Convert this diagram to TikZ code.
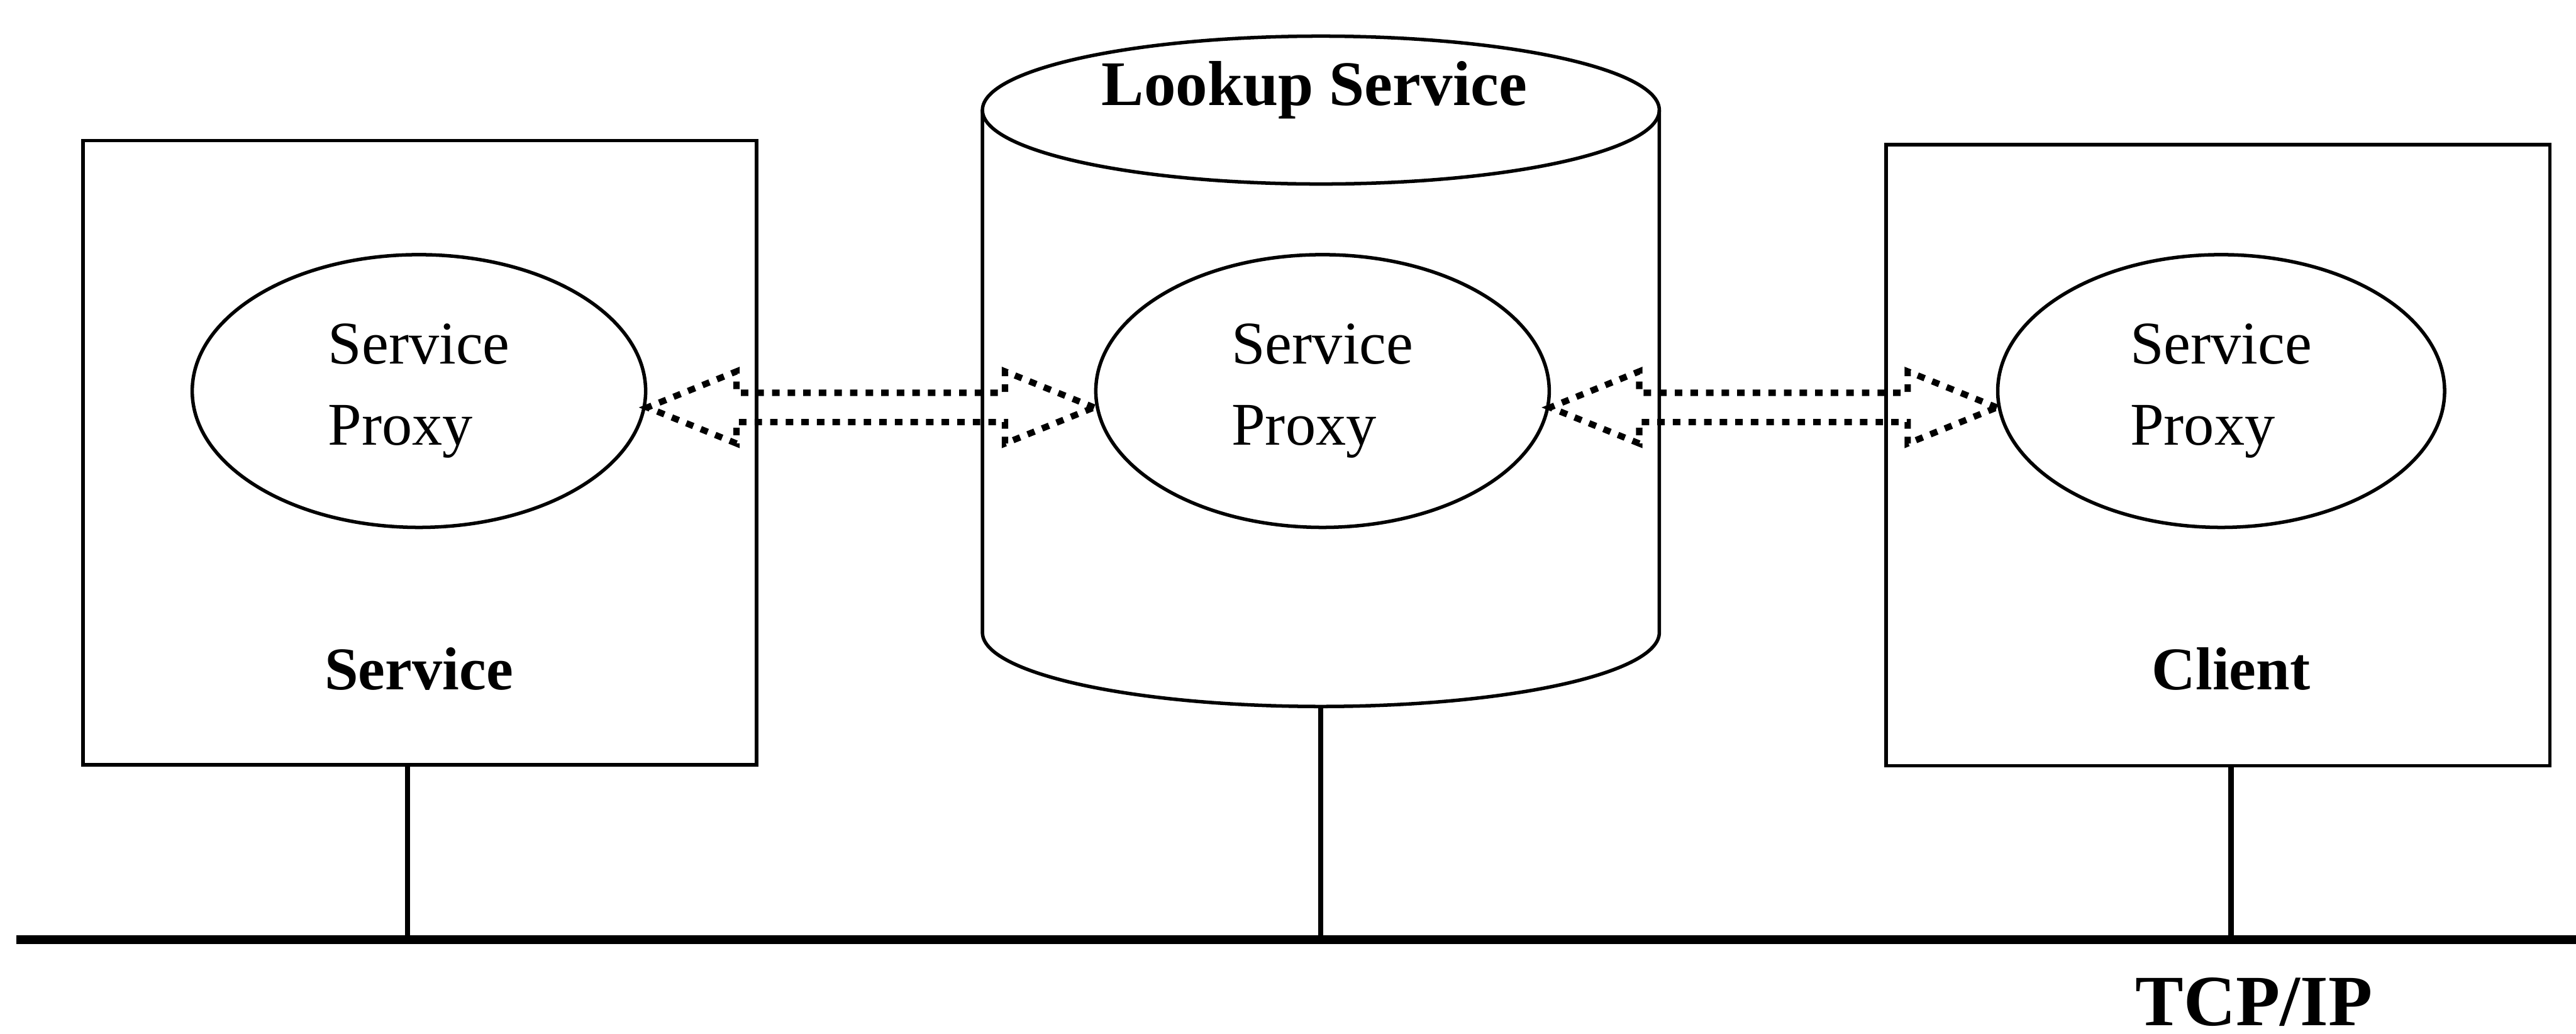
\documentclass[tikz,border=0pt]{standalone}
\usepackage{fontspec}
\setmainfont{Liberation Serif}
\usetikzlibrary{shapes.geometric,shapes.arrows,calc}

\begin{document}
\begin{tikzpicture}[
		host/.style={rectangle, draw, line width=0.6pt, minimum width=4.1cm, minimum height=3.8cm},
		proxy/.style={ellipse, draw, line width=0.6pt, minimum width=2.76cm, minimum height=1.66cm, align=left, font=\fontsize{10.5}{14}\selectfont},
		link/.style={double arrow, draw, line width=1.1pt, dash pattern=on 1.3pt off 1.4pt, inner xsep=0pt, inner ysep=0.07cm, double arrow head extend=0.13cm, double arrow tip angle=44, minimum height=2.72cm},
		caption/.style={font=\fontsize{10.5}{12}\selectfont\bfseries},
		wire/.style={line width=0.9pt},
		bus/.style={line width=1.5pt}
		]
		\useasboundingbox (0,0) rectangle (15.68,6.29);
		
		\node[host] (svcbox) at (2.555,3.535) {};
		\node[host, minimum width=4.04cm, minimum height=3.78cm] (clibox) at (13.50,3.52) {};
		
		\draw[line width=0.6pt] (5.98,5.62) -- (5.98,2.44) arc[start angle=180, end angle=360, x radius=2.06cm, y radius=0.45cm] -- (10.10,5.62);
		\draw[line width=0.6pt] (8.04,5.62) ellipse[x radius=2.06cm, y radius=0.45cm];
		\coordinate (lkpbase) at (8.04,1.99);
		
		\node[proxy] (svcpx) at (2.55,3.91) {Service\\Proxy};
		\node[proxy] (lkppx) at (8.05,3.91) {Service\\Proxy};
		\node[proxy, minimum width=2.72cm] (clipx) at (13.52,3.91) {Service\\Proxy};
		
		\node[caption, font=\fontsize{11}{13}\selectfont\bfseries] (lkpname) at (8.00,5.74) {Lookup Service};
		\node[caption] (svcname) at (2.55,2.22) {Service};
		\node[caption] (cliname) at (13.58,2.22) {Client};
		
		\node[link] (svclink) at ($(svcpx.east)!0.5!(lkppx.west)+(0,-0.1)$) {};
		\node[link] (clilink) at ($(lkppx.east)!0.5!(clipx.west)+(0,-0.1)$) {};
		
		\coordinate (busstart) at (0.10,0.57);
		\coordinate (busend) at (15.68,0.57);
		\coordinate (svctap) at (2.48,0.57);
		\coordinate (lkptap) at (8.04,0.57);
		\coordinate (clitap) at (13.58,0.57);
		
		\draw[bus] (busstart) -- (busend);
		\draw[wire] (svctap) -- (svctap |- svcbox.south);
		\draw[wire] (lkptap) -- (lkpbase);
		\draw[wire] (clitap) -- (clitap |- clibox.south);
		
		\node[caption, font=\fontsize{12.5}{14}\selectfont\bfseries] (tcpip) at (13.72,0.19) {TCP/IP};
		
	\end{tikzpicture}
\end{document}
